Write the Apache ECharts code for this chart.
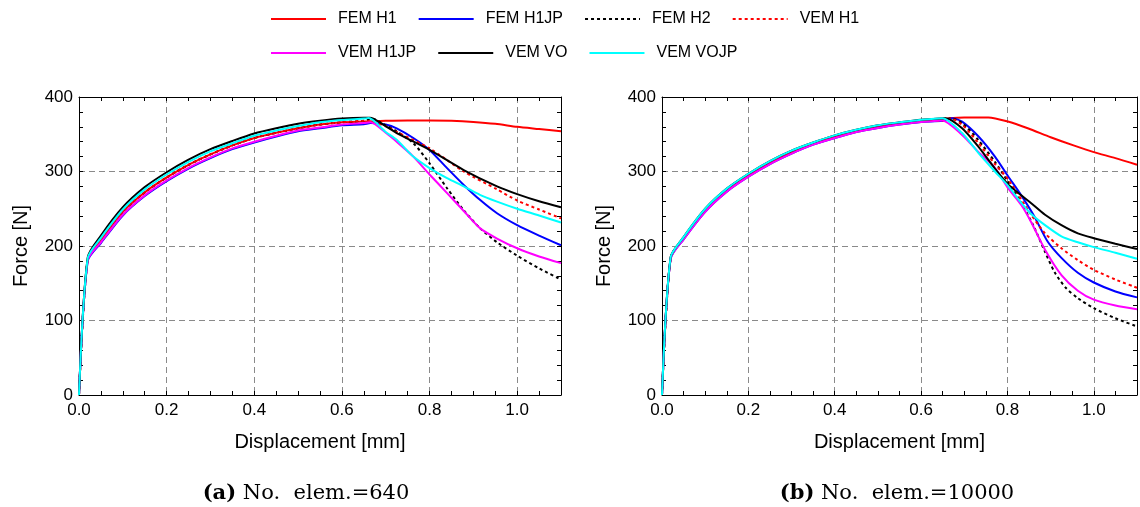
<!DOCTYPE html>
<html><head><meta charset="utf-8">
<script src="https://cdn.jsdelivr.net/npm/echarts/dist/echarts.min.js"></script>
<style>html,body{margin:0;padding:0;background:#fff}#c{width:1140px;height:507px}</style>
</head><body><div id="c"></div><script>
// ---------------- data ----------------
const seriesNames = ['FEM H1','FEM H1JP','FEM H2','VEM H1','VEM H1JP','VEM VO','VEM VOJP'];
const xTicks = [0.0, 0.2, 0.4, 0.6, 0.8, 1.0];
const yTicks = [0, 100, 200, 300, 400];
const preX = [0, 0.02, 0.05, 0.1, 0.15, 0.2, 0.25, 0.3, 0.35, 0.4, 0.45, 0.5, 0.55, 0.6];

// panel (a) No. elem.=640 : pre-peak force
const aPreTop  = [0,185,214,252,279,299,316,330,341,351,358,364,368,371];
const aPreCyan = [0,184,211,249,276,296,313,327,338,348,355,361,366,369];
const aPreMid  = [0,183,208,246,272,292,309,323,335,345,352,358,363,366];
const aPreMag  = [0,181,205,242,268,288,305,319,331,340,348,355,359,363];
const aPreBlue = [0,180,204,241,267,287,304,318,330,339,347,354,358,362];
// panel (a) post-peak
const aFemH1X   = [0.65,0.7,0.75,0.8,0.85,0.9,0.95,1.0,1.05,1.1];
const aFemH1Y   = [367,368,368.5,368.5,368,366.5,364,360,357,354];
const aFemH1jpX = [0.65,0.665,0.7,0.725,0.763,0.8,0.84,0.878,0.915,0.954,1.0,1.05,1.1];
const aFemH1jpY = [363.5,365,363,358,345,329,304.5,282,262,244,228,214,201];
const aFemH2X   = [0.65,0.668,0.7,0.725,0.763,0.8,0.84,0.878,0.915,0.954,1.0,1.05,1.1];
const aFemH2Y   = [368,371,362,354,338,311,277.5,248,224,205,187,170,155];
const aVemH1X   = [0.65,0.665,0.7,0.725,0.8,0.878,0.954,1.0,1.05,1.1];
const aVemH1Y   = [368,367,361,353,331,300,276,261,249,237];
const aVemH1jpX = [0.65,0.665,0.7,0.725,0.763,0.8,0.84,0.878,0.915,0.954,1.0,1.05,1.1];
const aVemH1jpY = [365,366,352,340,320,296,271,247,224,210,197,186,177];
const aVemVoX   = [0.65,0.664,0.695,0.725,0.8,0.878,0.954,1.0,1.05,1.1];
const aVemVoY   = [372,372,362.7,351.6,329,302,280,269.6,260,252];
const aVemVojpX = [0.65,0.661,0.7,0.725,0.763,0.8,0.84,0.878,0.915,0.954,1.0,1.05,1.1];
const aVemVojpY = [371,371.7,353,342.6,320,304.5,291,280,268.7,259.6,250,241,231.5];

// panel (b) No. elem.=10000 : pre-peak force
const bPreTop = [0,185,212,250,277,297,314,328,339,348.5,356,362,366,369.5];
const bPreMid = [0,184,210.5,248,275,295,312,326,337.5,347,354.5,360,364.5,368];
const bPreBot = [0,183,209,246,273,293,310,324,336,345,353,358.5,363,366.5];
// panel (b) post-peak
const bFemH1X   = [0.65,0.7,0.756,0.801,0.847,0.9,0.953,1.0,1.05,1.1];
const bFemH1Y   = [370.5,372.5,372.5,367,358,346,335,326,318,309];
const bFemH1jpX = [0.65,0.671,0.695,0.733,0.771,0.801,0.832,0.862,0.893,0.925,0.963,1.0,1.05,1.1];
const bFemH1jpY = [368,371.5,367,347,320,294,268,240,206,184,164,151,139,131];
const bFemH2X   = [0.65,0.668,0.695,0.733,0.771,0.801,0.832,0.862,0.887,0.91,0.935,0.963,1.0,1.05,1.1];
const bFemH2Y   = [368,371.5,365,342,313,286.5,258,225,192,164,144,130,116.5,103,92];
const bVemH1X   = [0.65,0.668,0.695,0.733,0.771,0.801,0.855,0.887,0.925,0.963,1.0,1.05,1.1];
const bVemH1Y   = [368,371,362.8,338,310,290,242,217,197,181,168,155,144];
const bVemH1jpX = [0.649,0.695,0.733,0.771,0.801,0.832,0.855,0.887,0.925,0.963,1.0,1.05,1.1];
const bVemH1jpY = [368.6,349,326,305,278,255,232,195,161,140,128,120,115];
const bVemVoX   = [0.65,0.657,0.695,0.733,0.771,0.801,0.832,0.855,0.887,0.925,0.963,1.0,1.05,1.1];
const bVemVoY   = [371.5,371.6,358,333,304,283,268,257.5,242,228,217,210.5,203,196];
const bVemVojpX = [0.649,0.695,0.733,0.771,0.801,0.832,0.855,0.887,0.925,0.963,1.0,1.05,1.1];
const bVemVojpY = [371.6,351.6,324.7,300,281,258,243,228,213,205,198.5,191,183];

const captions = [['(a)', 'No.  elem.=640'], ['(b)', 'No.  elem.=10000']];

// ---------------- build ----------------
const colors = {'FEM H1':'#ff0000','FEM H1JP':'#0000ff','FEM H2':'#000000','VEM H1':'#ff0000',
                'VEM H1JP':'#ff00ff','VEM VO':'#000000','VEM VOJP':'#00ffff'};
const dotted = {'FEM H2':true,'VEM H1':true};
function join(px, py, qx, qy){
  const d = px.map((x,i)=>[x, py[i]]);
  return d.concat(qx.map((x,i)=>[x, qy[i]]));
}
const panels = [
  {'FEM H1':join(preX,aPreMid,aFemH1X,aFemH1Y),
   'FEM H1JP':join(preX,aPreBlue,aFemH1jpX,aFemH1jpY),
   'FEM H2':join(preX,aPreMid,aFemH2X,aFemH2Y),
   'VEM H1':join(preX,aPreMid,aVemH1X,aVemH1Y),
   'VEM H1JP':join(preX,aPreMag,aVemH1jpX,aVemH1jpY),
   'VEM VO':join(preX,aPreTop,aVemVoX,aVemVoY),
   'VEM VOJP':join(preX,aPreCyan,aVemVojpX,aVemVojpY)},
  {'FEM H1':join(preX,bPreMid,bFemH1X,bFemH1Y),
   'FEM H1JP':join(preX,bPreBot,bFemH1jpX,bFemH1jpY),
   'FEM H2':join(preX,bPreMid,bFemH2X,bFemH2Y),
   'VEM H1':join(preX,bPreMid,bVemH1X,bVemH1Y),
   'VEM H1JP':join(preX,bPreBot,bVemH1jpX,bVemH1jpY),
   'VEM VO':join(preX,bPreTop,bVemVoX,bVemVoY),
   'VEM VOJP':join(preX,bPreTop,bVemVojpX,bVemVojpY)}
];

const SANS = 'Liberation Sans';
const gridLefts = [79, 662];
const captionCenters = [306, 897];
const grids = gridLefts.map(l => ({left:l, top:97, width:482, height:298, containLabel:false}));
const xAxes = [], yAxes = [], series = [];
const split = {show:true, lineStyle:{color:'#8a8a8a', width:1, type:[6,4]}};
const tickStyle = {show:true, inside:true, length:4, lineStyle:{color:'#000', width:1}};
grids.forEach((g, gi) => {
  xAxes.push({gridIndex:gi, type:'value', min:xTicks[0], max:1.1, interval:0.2, position:'bottom',
    axisLine:{show:true, onZero:false, lineStyle:{color:'#000', width:1}}, axisTick:{show:false},
    axisLabel:{color:'#000', fontSize:17, fontFamily:SANS, margin:7,
      formatter: v => (v > 1.05 ? '' : v.toFixed(1))},
    splitLine:split, name:'Displacement [mm]', nameLocation:'middle', nameGap:37,
    nameTextStyle:{color:'#000', fontSize:20, fontFamily:SANS}});
  xAxes.push({gridIndex:gi, type:'value', min:0, max:1.1, interval:0.05, position:'bottom',
    axisLine:{show:false, onZero:false}, axisTick:tickStyle, axisLabel:{show:false}, splitLine:{show:false}});
  xAxes.push({gridIndex:gi, type:'value', min:0, max:1.1, interval:0.05, position:'top',
    axisLine:{show:true, onZero:false, lineStyle:{color:'#000', width:1}}, axisTick:tickStyle,
    axisLabel:{show:false}, splitLine:{show:false}});
  yAxes.push({gridIndex:gi, type:'value', min:yTicks[0], max:yTicks[yTicks.length-1], interval:100, position:'left',
    axisLine:{show:true, onZero:false, lineStyle:{color:'#000', width:1}}, axisTick:{show:false},
    axisLabel:{color:'#000', fontSize:17, fontFamily:SANS, margin:6},
    splitLine:split, name:'Force [N]', nameLocation:'middle', nameGap:48, nameRotate:90,
    nameTextStyle:{color:'#000', fontSize:20, fontFamily:SANS}});
  yAxes.push({gridIndex:gi, type:'value', min:0, max:400, interval:20, position:'left',
    axisLine:{show:false, onZero:false}, axisTick:tickStyle, axisLabel:{show:false}, splitLine:{show:false}});
  yAxes.push({gridIndex:gi, type:'value', min:0, max:400, interval:20, position:'right',
    axisLine:{show:true, onZero:false, lineStyle:{color:'#000', width:1}}, axisTick:tickStyle,
    axisLabel:{show:false}, splitLine:{show:false}});
  seriesNames.forEach(n => {
    series.push({name:n, type:'line', xAxisIndex:gi*3, yAxisIndex:gi*3, data:panels[gi][n],
      showSymbol:false, symbol:'none', smooth:0.25, clip:true, animation:false,
      color:colors[n],
      lineStyle:{color:colors[n], width:2, type: dotted[n] ? [3,3] : 'solid'}});
  });
});

const legendCommon = {itemWidth:55, itemHeight:14, itemGap:21, padding:0,
  itemStyle:{opacity:0},
  textStyle:{color:'#000', fontSize:16, fontFamily:SANS, padding:[0,0,0,7]}};
const option = {
  animation:false,
  backgroundColor:'#fff',
  grid:grids, xAxis:xAxes, yAxis:yAxes, series:series,
  legend:[
    Object.assign({data:seriesNames.slice(0,4), left:270, top:11}, legendCommon),
    Object.assign({data:seriesNames.slice(4), left:270, top:45}, legendCommon)
  ],
  graphic: captions.map((c, i) => ({
    type:'text', x: captionCenters[i], y: 494,
    style:{text:'{b|' + c[0] + '} ' + c[1], fill:'#000', align:'center', verticalAlign:'middle',
      font:'21px "DejaVu Serif"',
      rich:{b:{fontFamily:'DejaVu Serif', fontWeight:'bold', fontSize:21, fill:'#000'}}}
  }))
};
const chart = echarts.init(document.getElementById('c'), null, {renderer:'canvas'});
chart.setOption(option);
</script></body></html>
